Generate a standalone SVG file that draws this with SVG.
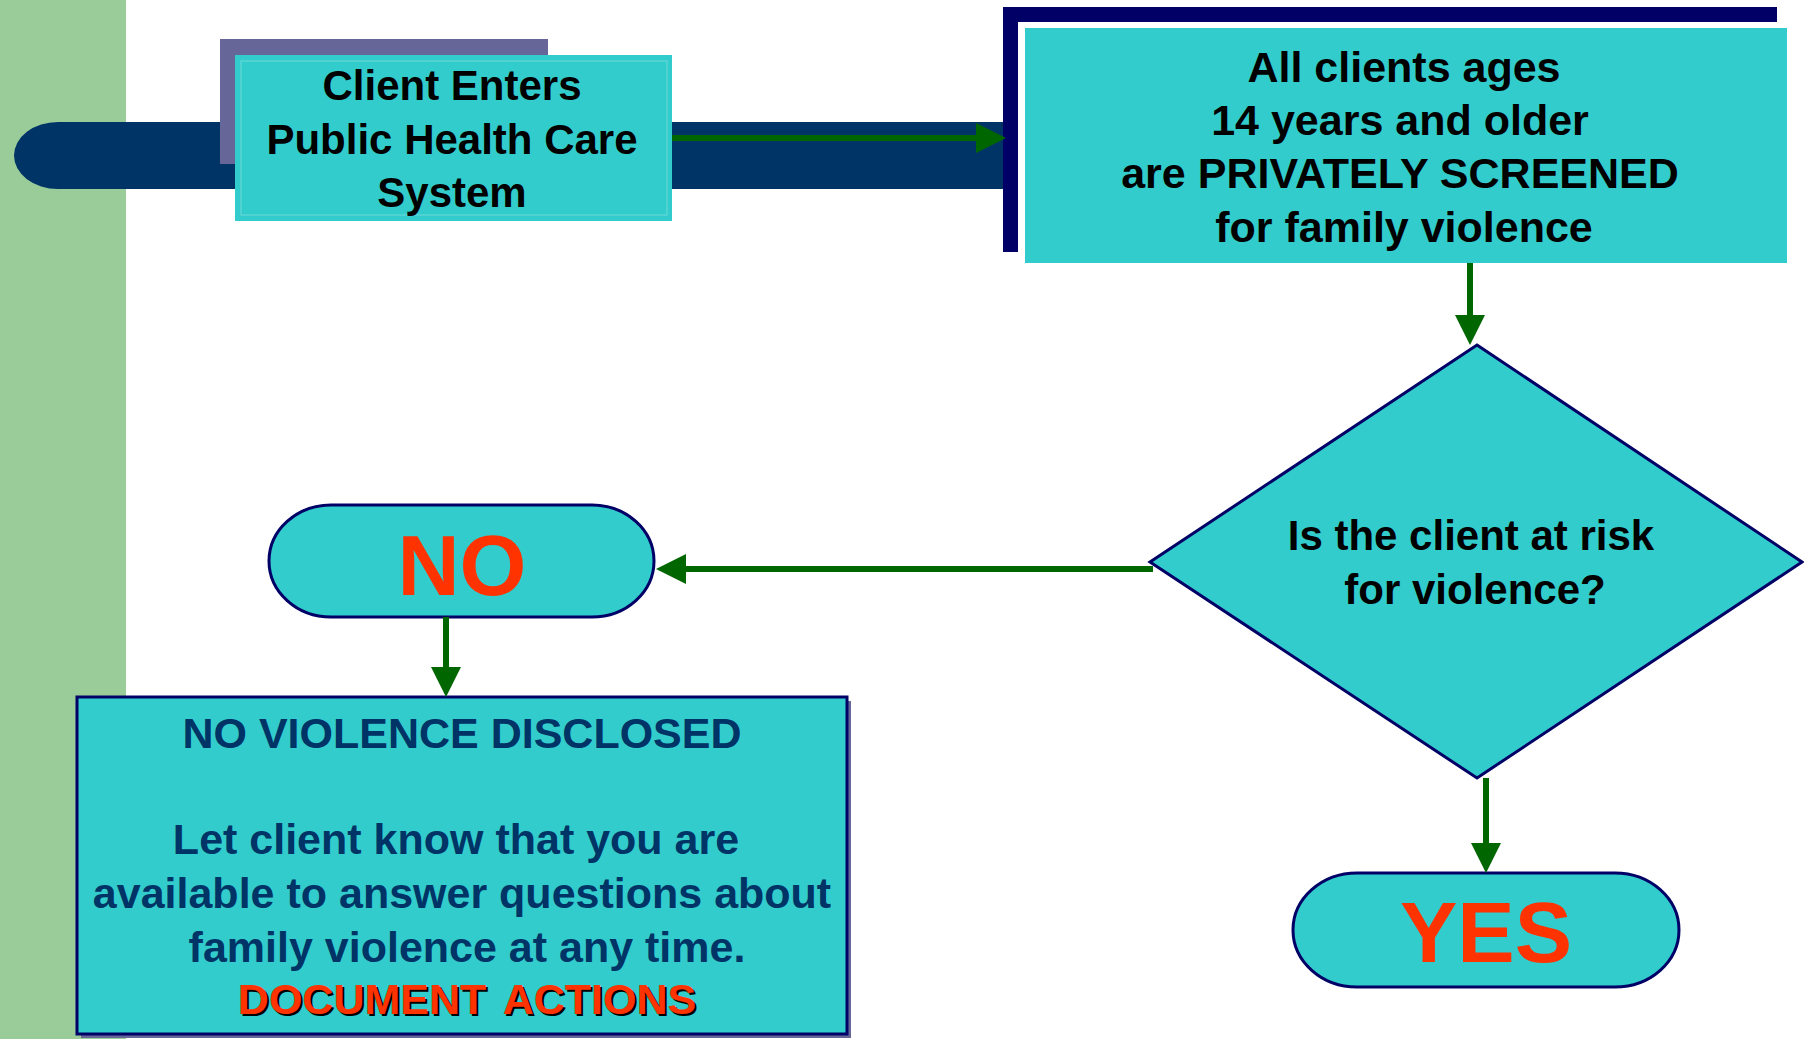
<svg xmlns="http://www.w3.org/2000/svg" width="1804" height="1039" viewBox="0 0 1804 1039">
<style>
text{font-family:"Liberation Sans",Arial,Helvetica,sans-serif;font-weight:bold;text-anchor:middle}
.t{font-size:42px;fill:#000}
.t2{font-size:43px;fill:#000}
.n{font-size:43px;fill:#003366}
.big{font-size:86px;fill:#FF3300}
.cy{fill:#33CCCC}
.conn{stroke:#006600;stroke-width:6;fill:none}
</style>
<defs>
<marker id="ah" markerUnits="userSpaceOnUse" markerWidth="30" markerHeight="30" refX="0" refY="15" orient="auto" viewBox="0 0 30 30">
<path d="M0,0 L30,15 L0,30 Z" fill="#006600"/>
</marker>
</defs>
<rect x="0" y="0" width="1804" height="1039" fill="#fff"/>
<rect x="0" y="0" width="126" height="1039" fill="#99CC99"/>
<path d="M1003,122 L58,122 A44,33.5 0 0 0 58,189 L1003,189 Z" fill="#003366"/>

<g id="start">
<rect x="220" y="39" width="328" height="125" fill="#666699"/>
<rect x="235" y="55" width="437" height="166" class="cy"/>
<rect x="241" y="61" width="426" height="154" fill="none" stroke="#6FD8D8" stroke-width="1"/>
<text class="t" x="452" y="100">Client Enters</text>
<text class="t" x="452" y="154">Public Health Care</text>
<text class="t" x="452" y="207">System</text>
</g>

<g id="screen">
<rect x="1003" y="7" width="774" height="245" fill="#000066"/>
<rect x="1018" y="22" width="760" height="235" fill="#fff"/>
<rect x="1025" y="28" width="762" height="235" class="cy"/>
<text class="t2" x="1404" y="82">All clients ages</text>
<text class="t2" x="1400" y="135">14 years and older</text>
<text class="t2" x="1400" y="188">are PRIVATELY SCREENED</text>
<text class="t2" x="1404" y="242">for family violence</text>
</g>

<g id="decision">
<polygon points="1477,345 1802,562 1477,778 1150,562" class="cy" stroke="#000066" stroke-width="3"/>
<text class="t" x="1471" y="550">Is the client at risk</text>
<text class="t" x="1475" y="604">for violence?</text>
</g>

<g id="no">
<rect x="269" y="505" width="385" height="112" rx="62" ry="56" class="cy" stroke="#000066" stroke-width="3"/>
<text class="big" x="462" y="595">NO</text>
</g>

<g id="yes">
<rect x="1293" y="873" width="386" height="114" rx="64" ry="57" class="cy" stroke="#000066" stroke-width="3"/>
<text class="big" x="1486" y="962">YES</text>
</g>

<g id="noviolence">
<rect x="81" y="701" width="770" height="337" fill="#666699"/>
<rect x="77" y="697" width="770" height="337" class="cy" stroke="#000066" stroke-width="3"/>
<text class="n" x="462" y="748">NO VIOLENCE DISCLOSED</text>
<text class="n" x="456" y="854">Let client know that you are</text>
<text class="n" x="462" y="908">available to answer questions about</text>
<text class="n" x="467" y="962">family violence at any time.</text>
<text x="469" y="1016" style="font-size:43px;fill:#000" word-spacing="6">DOCUMENT ACTIONS</text>
<text x="467" y="1014" style="font-size:43px;fill:#FF3300" word-spacing="6">DOCUMENT ACTIONS</text>
</g>

<g id="connectors">
<line class="conn" x1="672" y1="138" x2="976" y2="138" marker-end="url(#ah)"/>
<line class="conn" x1="1470" y1="263" x2="1470" y2="315" marker-end="url(#ah)"/>
<line class="conn" x1="1153" y1="569" x2="686" y2="569" marker-end="url(#ah)"/>
<line class="conn" x1="446" y1="617" x2="446" y2="667" marker-end="url(#ah)"/>
<line class="conn" x1="1486" y1="778" x2="1486" y2="843" marker-end="url(#ah)"/>
</g>
</svg>
